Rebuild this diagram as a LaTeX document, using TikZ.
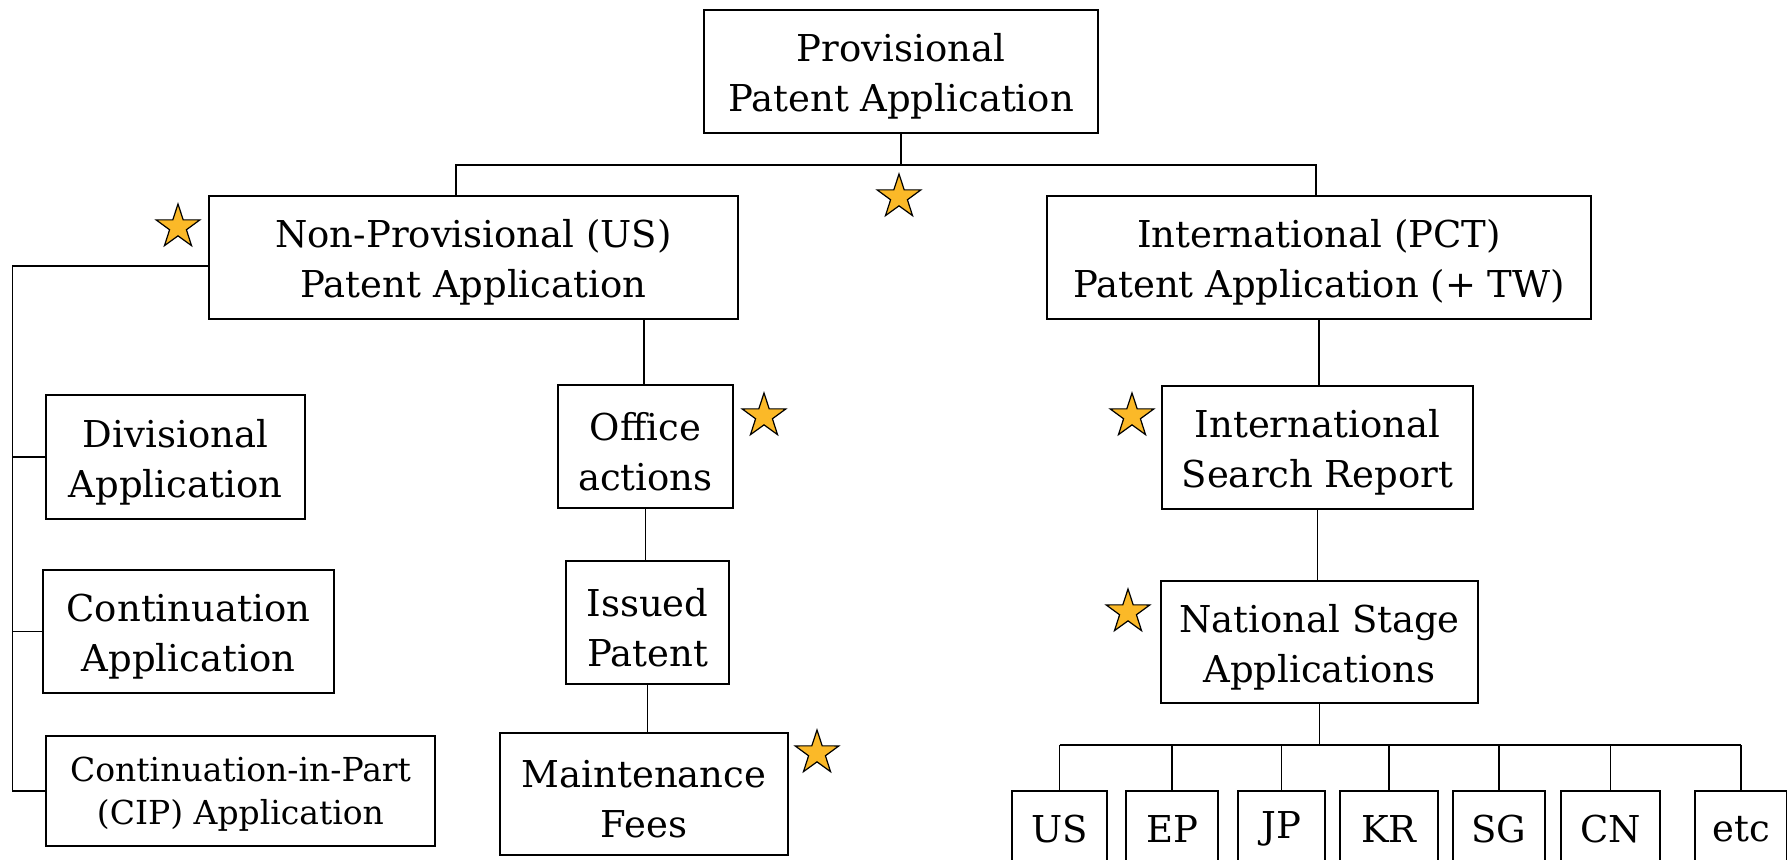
\documentclass[tikz,border=0pt]{standalone}
\usepackage{fontspec}
\setmainfont{DejaVu Serif}
\usetikzlibrary{shapes.geometric}
\definecolor{stargold}{RGB}{251,185,40}
\begin{document}
\begin{tikzpicture}[x=0.5pt,y=-0.5pt,
  box/.style={draw, line width=1pt, inner sep=0pt, align=center, font=\fontsize{18.5}{25}\selectfont},
  twoline/.style={box, text height=44pt},
  smallbox/.style={box, font=\fontsize{16.5}{21.5}\selectfont, text height=37pt},
  link/.style={line width=0.8pt},
  starmark/.style={star, star points=5, star point ratio=2.6, draw, fill=stargold, line width=0.6pt, minimum size=23pt, inner sep=0pt}]
\useasboundingbox (0,0) rectangle (1787,859);
\clip (0,0) rectangle (1787,859);
% boxes
\node[twoline, minimum width=197pt, minimum height=61.5pt] (prov) at (901,71.5) {Provisional\\Patent Application};
\node[twoline, minimum width=264.5pt, minimum height=61.5pt] (nonprov) at (473.5,257.5) {Non-Provisional (US)\\Patent Application};
\node[twoline, minimum width=272pt, minimum height=61.5pt] (pct) at (1319,257.5) {International (PCT)\\Patent Application (+ TW)};
\node[twoline, minimum width=129.5pt, minimum height=62pt] (div) at (175.5,457) {Divisional\\Application};
\node[twoline, minimum width=145.5pt, minimum height=61.5pt] (cont) at (188.5,631.5) {Continuation\\Application};
\node[smallbox, minimum width=194.5pt, minimum height=55pt] (cip) at (240.5,791) {Continuation-in-Part\\(CIP) Application};
\node[twoline, minimum width=87.5pt, minimum height=61.5pt] (office) at (645.5,446.5) {Office\\actions};
\node[twoline, minimum width=81.5pt, minimum height=61.5pt] (issued) at (647.5,622.5) {Issued\\Patent};
\node[twoline, minimum width=144pt, minimum height=61pt] (maint) at (644,794) {Maintenance\\Fees};
\node[twoline, minimum width=155.5pt, minimum height=61.5pt] (isr) at (1317.5,447.5) {International\\Search Report};
\node[twoline, minimum width=158.5pt, minimum height=61pt] (nsa) at (1319.5,642) {National Stage\\Applications};
\node[box, minimum width=47.5pt, minimum height=38pt] (us) at (1059.5,829) {US};
\node[box, minimum width=46pt, minimum height=38pt] (ep) at (1172,829) {EP};
\node[box, minimum width=43.5pt, minimum height=38pt] (jp) at (1281.5,829) {JP};
\node[box, minimum width=49pt, minimum height=38pt] (kr) at (1389,829) {KR};
\node[box, minimum width=46pt, minimum height=38pt] (sg) at (1499,829) {SG};
\node[box, minimum width=49.5pt, minimum height=38pt] (cn) at (1610.5,829) {CN};
\node[box, minimum width=46pt, minimum height=38pt] (etc) at (1741,829) {etc};
% stars
\node[starmark] (s0) at (899,197) {};
\node[starmark] (s1) at (178,227) {};
\node[starmark] (s2) at (764,416) {};
\node[starmark] (s3) at (817,753) {};
\node[starmark] (s4) at (1132,416) {};
\node[starmark] (s5) at (1128,612) {};
% connectors
\coordinate (tb) at (899,165);
\coordinate (spine) at (12.5,266);
\coordinate (cbar) at (1319,745);
\draw[link] (prov.south) -- (prov.south |- tb);
\draw[link] ([xshift=-8.75pt]nonprov.north) -- ([xshift=-8.75pt]nonprov.north |- tb) -| ([xshift=-1.5pt]pct.north);
\draw[link] ([yshift=-4.25pt]nonprov.west) -- (spine) |- (cip.west);
\draw[link] (div.west) -- (div.west -| spine);
\draw[link] (cont.west) -- (cont.west -| spine);
\draw[link] ([xshift=-0.75pt]office.north |- nonprov.south) -- ([xshift=-0.75pt]office.north);
\draw[link] (office.south) -- (office.south |- issued.north);
\draw[link] (issued.south) -- (issued.south |- maint.north);
\draw[link] (pct.south) -- (pct.south |- isr.north);
\draw[link] (isr.south) -- (isr.south |- nsa.north);
\draw[link] (nsa.south) -- (nsa.south |- cbar);
\draw[link] (us.north |- cbar) -- (etc.north |- cbar);
\foreach \c in {us,ep,jp,kr,sg,cn,etc}{
  \draw[link] (\c.north) -- (\c.north |- cbar);
}
\end{tikzpicture}
\end{document}
